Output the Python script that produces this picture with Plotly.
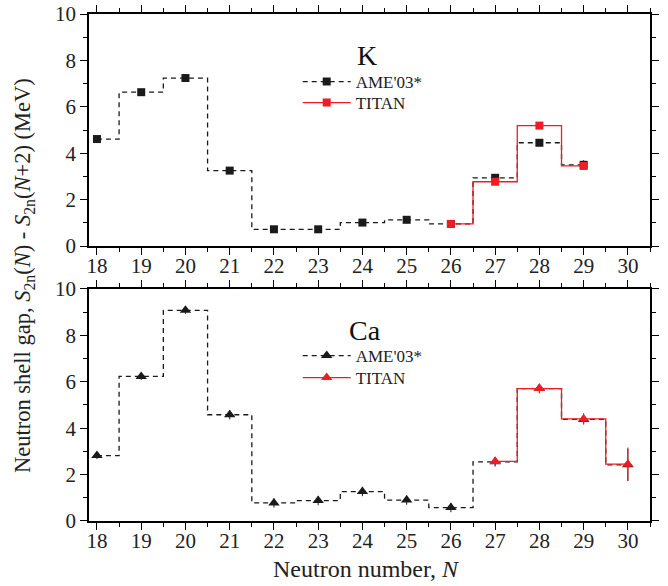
import plotly.graph_objects as go

# ---------------- data ----------------
N_all = [18, 19, 20, 21, 22, 23, 24, 25, 26, 27, 28, 29, 30]

# K (top panel)
K_ame_N = [18, 19, 20, 21, 22, 23, 24, 25, 26, 27, 28, 29]
K_ame_gap = [4.61, 6.63, 7.24, 3.25, 0.72, 0.72, 1.01, 1.13, 0.95, 2.94, 4.45, 3.50]
K_ame_err = [0.03, 0.03, 0.03, 0.03, 0.03, 0.03, 0.03, 0.03, 0.05, 0.08, 0.08, 0.2]
K_titan_N = [26, 27, 28, 29]
K_titan_gap = [0.95, 2.77, 5.19, 3.45]
K_titan_err = [0.03, 0.05, 0.08, 0.15]

# Ca (bottom panel)
Ca_ame_N = [18, 19, 20, 21, 22, 23, 24, 25, 26, 27, 28, 29, 30]
Ca_ame_gap = [2.82, 6.23, 9.08, 4.58, 0.78, 0.88, 1.27, 0.90, 0.58, 2.55, 5.71, 4.38, 2.42]
Ca_ame_err = [0.15, 0.15, 0.15, 0.2, 0.2, 0.2, 0.2, 0.2, 0.2, 0.2, 0.2, 0.2, 0.7]
Ca_titan_N = [27, 28, 29, 30]
Ca_titan_gap = [2.57, 5.71, 4.40, 2.45]
Ca_titan_err = [0.2, 0.2, 0.25, 0.72]

x_ticks = N_all
y_ticks = [0, 2, 4, 6, 8, 10]

FONT = "Liberation Serif"
BLACK = "#1a1a1a"
RED = "#ee1c24"
TXT = "#222222"

fig = go.Figure()

def add_series(xs, ys, errs, color, dash, symbol, size, name, xa, ya, legend):
    fig.add_trace(go.Scatter(
        x=xs, y=ys, mode="lines+markers", name=name,
        line=dict(shape="hvh", color=color, width=1.3, dash=dash),
        marker=dict(symbol=symbol, size=size, color=color),
        error_y=dict(type="data", array=errs, color=color, thickness=1, width=0),
        xaxis=xa, yaxis=ya, legend=legend, showlegend=True,
    ))

add_series(K_ame_N, K_ame_gap, K_ame_err, BLACK, "5px,4px", "square", 8, "AME'03*", "x", "y", "legend")
add_series(K_titan_N, K_titan_gap, K_titan_err, RED, "solid", "square", 8, "TITAN", "x", "y", "legend2")
add_series(Ca_ame_N, Ca_ame_gap, Ca_ame_err, BLACK, "5px,4px", "triangle-up", 10, "AME'03*", "x2", "y2", "legend3")
add_series(Ca_titan_N, Ca_titan_gap, Ca_titan_err, RED, "solid", "triangle-up", 10, "TITAN", "x2", "y2", "legend4")

xr = [17.82, 30.5]
yr = [0, 10]

base = dict(tickwidth=1.2, tickcolor="black", showline=True, linecolor="black", linewidth=1.5,
            showgrid=False, zeroline=False, ticklen=7, mirror="ticks")
x_common = dict(**base, range=xr, tickmode="array", tickvals=x_ticks, ticks="outside",
                tickfont=dict(family=FONT, size=21, color=TXT), ticklabelstandoff=-7,
                minor=dict(dtick=1, tick0=18.5, ticks="outside", ticklen=4, tickcolor="black", tickwidth=1.2))
y_common = dict(**base, range=yr, tickmode="array", tickvals=y_ticks, ticks="outside",
                tickfont=dict(family=FONT, size=21, color=TXT),
                minor=dict(dtick=2, tick0=1, ticks="outside", ticklen=4, tickcolor="black", tickwidth=1.2))

top_dom = [0.5424, 1.0]
bot_dom = [0.0, 0.4576]

L, R, T, B = 89, 18, 14, 65
W, H = 668, 586
plot_w = W - L - R
plot_h = H - T - B

def px_x(px):
    return (px - L) / plot_w

def px_y(py):
    return (H - B - py) / plot_h

def leg(ycenter):
    return dict(x=0.372, y=px_y(ycenter), xanchor="left", yanchor="middle", bgcolor="rgba(0,0,0,0)",
                font=dict(family=FONT, size=17, color=TXT), itemwidth=48, tracegroupgap=0)

fig.update_layout(
    width=W, height=H,
    margin=dict(l=L, r=R, t=T, b=B, autoexpand=False),
    paper_bgcolor="white", plot_bgcolor="white",
    font=dict(family=FONT, color=TXT),
    xaxis=dict(**x_common, anchor="y", domain=[0, 1]),
    yaxis=dict(**y_common, anchor="x", domain=top_dom),
    xaxis2=dict(**x_common, anchor="y2", domain=[0, 1]),
    yaxis2=dict(**y_common, anchor="x2", domain=bot_dom),
    legend=leg(82),
    legend2=leg(103),
    legend3=leg(356),
    legend4=leg(378),
    annotations=[
        dict(text="K", x=24.1, y=8.2, xref="x", yref="y", showarrow=False,
             font=dict(family=FONT, size=28, color="#111")),
        dict(text="Ca", x=24.05, y=8.2, xref="x2", yref="y2", showarrow=False,
             font=dict(family=FONT, size=28, color="#111")),
        dict(text="Neutron shell gap, <i>S</i><sub>2n</sub>(<i>N</i>) - <i>S</i><sub>2n</sub>(<i>N</i>+2) (MeV)",
             x=px_x(24), y=px_y(276), xref="paper", yref="paper", showarrow=False, textangle=-90,
             xanchor="center", yanchor="middle",
             font=dict(family=FONT, size=22.5, color=TXT)),
        dict(text="Neutron number, <i>N</i>",
             x=px_x(366), y=px_y(569), xref="paper", yref="paper", showarrow=False,
             xanchor="center", yanchor="middle",
             font=dict(family=FONT, size=24, color=TXT)),
    ],
)

fig.write_html("out.html")
